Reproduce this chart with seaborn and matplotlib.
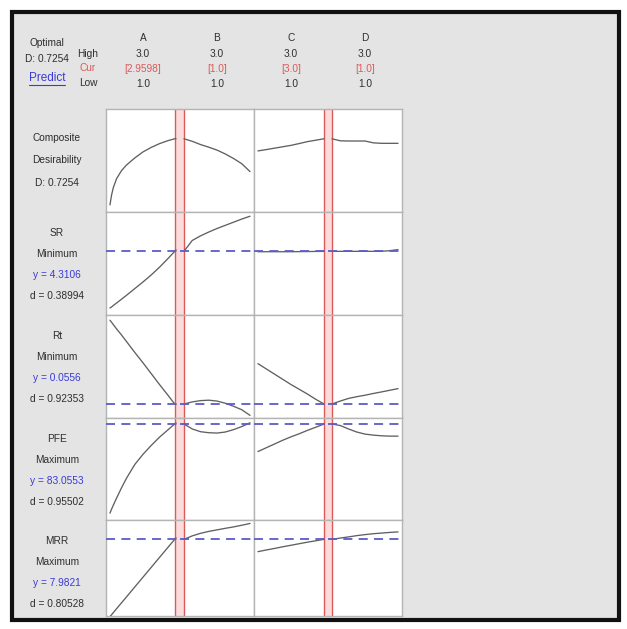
import matplotlib
matplotlib.use("Agg")
import matplotlib.pyplot as plt
from matplotlib.lines import Line2D
from matplotlib.patches import Rectangle
import pandas as pd
import seaborn as sns

# ---- optimizer settings -------------------------------------------------
factors = ["A", "B", "C", "D"]
factor_high = [3.0, 3.0, 3.0, 3.0]
factor_low = [1.0, 1.0, 1.0, 1.0]
factor_cur = [2.9598, 1.0, 3.0, 1.0]

responses = ["Composite", "SR", "Rt", "PFE", "MRR"]
goals = ["", "Minimum", "Minimum", "Maximum", "Maximum"]
pred_y = [0.7254, 4.3106, 0.0556, 83.0553, 7.9821]
pred_y_label = ["", "4.3106", "0.0556", "83.0553", "7.9821"]
desir_d = ["", "0.38994", "0.92353", "0.95502", "0.80528"]
overall_D = "0.7254"

# ---- response traces over each factor range ----------------------------
x_A = [1.0, 1.05, 1.1, 1.2, 1.35, 1.5, 1.75, 2.0, 2.25, 2.5, 2.75, 2.9598, 3.0]
x_other = [1.0, 1.25, 1.5, 1.75, 2.0, 2.25, 2.5, 2.75, 3.0]

comp_A = [0.07, 0.17, 0.24, 0.33, 0.41, 0.465, 0.535, 0.595, 0.64, 0.677, 0.706, 0.7254, 0.7249]
comp_B = [0.7254, 0.70, 0.668, 0.642, 0.613, 0.575, 0.53, 0.478, 0.40]
comp_C = [0.605, 0.618, 0.632, 0.646, 0.66, 0.678, 0.697, 0.711, 0.7254]
comp_D = [0.7254, 0.705, 0.703, 0.703, 0.703, 0.685, 0.68, 0.68, 0.68]

sr_A = [2.70, 2.73, 2.77, 2.84, 2.95, 3.06, 3.25, 3.44, 3.64, 3.86, 4.10, 4.3106, 4.35]
sr_B = [4.3106, 4.62, 4.75, 4.86, 4.96, 5.05, 5.14, 5.23, 5.31]
sr_C = [4.30, 4.30, 4.30, 4.30, 4.30, 4.303, 4.305, 4.308, 4.3106]
sr_D = [4.3106, 4.311, 4.311, 4.311, 4.311, 4.311, 4.312, 4.33, 4.36]

rt_A = [0.152, 0.1496, 0.147, 0.142, 0.135, 0.1275, 0.115, 0.103, 0.0905, 0.078, 0.066, 0.0556, 0.0552]
rt_B = [0.0556, 0.058, 0.0595, 0.060, 0.059, 0.0565, 0.053, 0.049, 0.0425]
rt_C = [0.102, 0.096, 0.090, 0.084, 0.078, 0.0725, 0.067, 0.061, 0.0556]
rt_D = [0.0556, 0.059, 0.062, 0.064, 0.0657, 0.0677, 0.0695, 0.0714, 0.0733]

pfe_A = [57.0, 58.2, 59.3, 61.4, 64.4, 67.2, 71.2, 74.2, 76.8, 79.2, 81.3, 83.0553, 83.35]
pfe_B = [83.0553, 81.6, 80.8, 80.5, 80.4, 80.7, 81.4, 82.3, 83.4]
pfe_C = [75.0, 76.1, 77.2, 78.3, 79.3, 80.2, 81.2, 82.1, 83.0553]
pfe_D = [83.0553, 82.6, 81.6, 80.7, 80.1, 79.8, 79.6, 79.5, 79.5]

mrr_A = [1.95, 2.10, 2.26, 2.57, 3.03, 3.49, 4.26, 5.03, 5.80, 6.57, 7.34, 7.9821, 8.10]
mrr_B = [7.9821, 8.25, 8.45, 8.60, 8.72, 8.84, 8.95, 9.08, 9.22]
mrr_C = [7.02, 7.15, 7.27, 7.40, 7.52, 7.64, 7.76, 7.87, 7.9821]
mrr_D = [7.9821, 8.08, 8.17, 8.27, 8.35, 8.42, 8.47, 8.52, 8.56]

traces = {
    "Composite": [comp_A, comp_B, comp_C, comp_D],
    "SR": [sr_A, sr_B, sr_C, sr_D],
    "Rt": [rt_A, rt_B, rt_C, rt_D],
    "PFE": [pfe_A, pfe_B, pfe_C, pfe_D],
    "MRR": [mrr_A, mrr_B, mrr_C, mrr_D],
}

rows = []
for r in responses:
    for f, vals in zip(factors, traces[r]):
        xs = x_A if f == "A" else x_other
        for xv, yv in zip(xs, vals):
            rows.append({"response": r, "factor": f, "x": xv, "y": yv})
df = pd.DataFrame(rows)

# ---- styling ------------------------------------------------------------
sns.set_style("white")
plt.rcParams["font.family"] = ["Liberation Sans", "DejaVu Sans"]

W, H = 627, 629
fig = plt.figure(figsize=(W / 100, H / 100), dpi=100)
fig.patch.set_facecolor("white")

def fx(px):
    return px / W

def fy(py):
    return 1 - py / H

panel_bg = "#e4e4e4"
curve_col = "#606060"
dash_col = "#5c5cc4"
red_col = "#dc5a5a"
pink_col = "#fadcdc"
grid_col = "#b4b4b4"
text_col = "#2e2e2e"
blue_txt = "#3a3ad8"

# outer framed window
fig.patches.append(Rectangle((fx(12), fy(620)), fx(619) - fx(12), fy(12) - fy(620),
                             transform=fig.transFigure, facecolor=panel_bg,
                             edgecolor="#111111", linewidth=3, zorder=-5))

col_left = [106, 180, 254, 328]
col_w = 74
row_top = [109, 212, 315, 418, 520]
row_h = [103, 103, 103, 102, 96]
row_ylim = [(0.0, 1.02), (2.5, 5.43), (0.0395, 0.158), (55.0, 84.8), (2.0, 9.49)]
pad = 0.12

for ri, r in enumerate(responses):
    for ci, f in enumerate(factors):
        ax = fig.add_axes([fx(col_left[ci]), fy(row_top[ri] + row_h[ri]),
                           col_w / W, row_h[ri] / H])
        ax.set_zorder(1)
        ax.set_facecolor("white")
        lo, hi, cur = factor_low[ci], factor_high[ci], factor_cur[ci]
        ax.set_xlim(lo - pad, hi + pad)
        ax.set_ylim(*row_ylim[ri])
        # current setting band
        if cur - lo > hi - cur:
            ax.axvspan(cur, hi + pad, color=pink_col, lw=0, zorder=1)
        else:
            ax.axvspan(lo - pad, cur, color=pink_col, lw=0, zorder=1)
        ax.axvline(cur, color=red_col, lw=1.0, zorder=2)
        sub = df[(df.response == r) & (df.factor == f)]
        sns.lineplot(data=sub, x="x", y="y", ax=ax, color=curve_col, lw=0.95,
                     estimator=None, sort=False, zorder=3)
        if ri > 0:
            ax.axhline(pred_y[ri], color=dash_col, lw=1.3, dashes=(5.0, 3.5), zorder=4)
        ax.set_xlabel("")
        ax.set_ylabel("")
        ax.set_xticks([])
        ax.set_yticks([])
        for side, sp in ax.spines.items():
            sp.set_color(grid_col)
            sp.set_linewidth(1.0)
        if ci in (0, 2):
            ax.spines["right"].set_visible(False)
        if ci in (1, 3):
            ax.spines["left"].set_visible(False)

fs = 7.3
# header block
fig.text(fx(47), fy(43), "Optimal", ha="center", va="center", fontsize=fs, color=text_col)
fig.text(fx(47), fy(59), "D: " + overall_D, ha="center", va="center", fontsize=fs, color=text_col)
pred = fig.text(fx(47), fy(78), "Predict", ha="center", va="center", fontsize=8.5, color=blue_txt)
fig.text(fx(88), fy(54), "High", ha="center", va="center", fontsize=fs, color=text_col)
fig.text(fx(88), fy(68), "Cur", ha="center", va="center", fontsize=fs, color=red_col)
fig.text(fx(88), fy(83), "Low", ha="center", va="center", fontsize=fs, color=text_col)

for ci, f in enumerate(factors):
    cx = col_left[ci] + col_w / 2
    fig.text(fx(cx), fy(38), f, ha="center", va="center", fontsize=fs, color=text_col)
    fig.text(fx(cx), fy(54), f"{factor_high[ci]:.1f}", ha="center", va="center", fontsize=fs, color=text_col)
    cur_txt = f"{factor_cur[ci]:.4f}" if factor_cur[ci] not in (1.0, 3.0) else f"{factor_cur[ci]:.1f}"
    fig.text(fx(cx), fy(69), f"[{cur_txt}]", ha="center", va="center", fontsize=fs, color=red_col)
    fig.text(fx(cx), fy(84), f"{factor_low[ci]:.1f}", ha="center", va="center", fontsize=fs, color=text_col)

# row labels
lx = 57
comp_off = [29, 51, 74]
for t, off in zip(["Composite", "Desirability", "D: " + overall_D], comp_off):
    fig.text(fx(lx), fy(row_top[0] + off), t, ha="center", va="center", fontsize=fs, color=text_col)
offs = [21, 42, 63, 84]
for ri in range(1, 5):
    top = row_top[ri]
    fig.text(fx(lx), fy(top + offs[0]), responses[ri], ha="center", va="center", fontsize=fs, color=text_col)
    fig.text(fx(lx), fy(top + offs[1]), goals[ri], ha="center", va="center", fontsize=fs, color=text_col)
    fig.text(fx(lx), fy(top + offs[2]), "y = " + pred_y_label[ri], ha="center", va="center", fontsize=fs, color=blue_txt)
    fig.text(fx(lx), fy(top + offs[3]), "d = " + desir_d[ri], ha="center", va="center", fontsize=fs, color=text_col)

# underline the Predict link
fig.canvas.draw()
bb = pred.get_window_extent().transformed(fig.transFigure.inverted())
fig.lines.append(Line2D([bb.x0, bb.x1], [bb.y0 - 0.002, bb.y0 - 0.002],
                        transform=fig.transFigure, color=blue_txt, lw=0.8))

fig.savefig("out.png", dpi=100, facecolor="white")
